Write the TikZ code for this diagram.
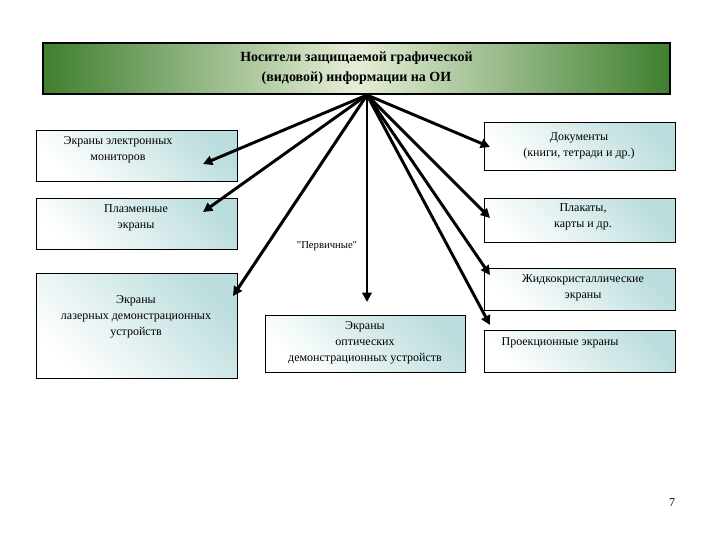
\documentclass[tikz,border=0pt]{standalone}
\usepackage{fontspec}
\setmainfont{Liberation Serif}
\newfontfamily\rawf{Liberation Serif}[Ligatures=ResetAll]
\usetikzlibrary{arrows.meta}
\definecolor{dg}{HTML}{3F7F2F}
\definecolor{lg}{HTML}{E6EED8}
\definecolor{bx}{HTML}{BCDDDD}
\tikzset{
 box/.style={draw=black,line width=0.8pt,left color=white,right color=bx,shading angle=135,align=center,font=\fontsize{9}{12}\selectfont,inner sep=2pt},
 arr/.style={-{Triangle[length=7pt,width=7pt]},line width=2.2pt}
}
\begin{document}
\begin{tikzpicture}[x=0.75pt,y=-0.75pt]
\useasboundingbox[fill=white] (0,0) rectangle (720,540);
\node[draw=black,line width=0.8pt,minimum width=627*0.75pt,minimum height=51*0.75pt,inner sep=0pt,
 left color=dg,right color=dg,middle color=lg,align=center,font=\bfseries\fontsize{10.5}{15}\selectfont] (top) at (356.5,68.5) {Носители защищаемой графической\\(видовой) информации на ОИ};
\coordinate (apex) at (367,95);
\node[box,minimum width=201*0.75pt,minimum height=51*0.75pt,anchor=north west] (l1) at (36,130) {};
\node at (118,150) [align=center,font=\fontsize{9}{12}\selectfont] (l1t) {Экраны электронных\\мониторов};
\node[box,minimum width=201*0.75pt,minimum height=51*0.75pt,anchor=north west] (l2) at (36,198) {};
\node at (136,218) [align=center,font=\fontsize{9}{12}\selectfont] (l2t) {Плазменные\\экраны};
\node[box,minimum width=201*0.75pt,minimum height=105*0.75pt,anchor=north west] (l3) at (36,273) {};
\node at (136,317) [align=center,font=\fontsize{9}{12}\selectfont] (l3t) {Экраны\\лазерных демонстрационных\\устройств};
\node[box,minimum width=200*0.75pt,minimum height=57*0.75pt,anchor=north west] (c) at (265,315) {};
\node at (365,343) [align=center,font=\fontsize{9}{12}\selectfont] (ct) {Экраны\\оптических\\демонстрационных устройств};
\node[box,minimum width=191*0.75pt,minimum height=48*0.75pt,anchor=north west] (r1) at (484,122) {};
\node at (579,146) [align=center,font=\fontsize{9}{12}\selectfont] (r1t) {Документы\\(книги, тетради и др.)};
\node[box,minimum width=191*0.75pt,minimum height=44*0.75pt,anchor=north west] (r2) at (484,198) {};
\node at (583,217) [align=center,font=\fontsize{9}{12}\selectfont] (r2t) {Плакаты,\\карты и др.};
\node[box,minimum width=191*0.75pt,minimum height=42*0.75pt,anchor=north west] (r3) at (484,268) {};
\node at (583,288) [align=center,font=\fontsize{9}{12}\selectfont] (r3t) {Жидкокристаллические\\экраны};
\node[box,minimum width=191*0.75pt,minimum height=42*0.75pt,anchor=north west] (r4) at (484,330) {};
\node at (560,343) [font=\fontsize{9}{12}\selectfont] (r4t) {Проекционные экраны};
\node at (327,246) [font=\rawf\fontsize{8}{10}\selectfont] (pl) {"Первичные"};
\node at (672,503) [font=\fontsize{9}{12}\selectfont] (pg) {7};
\coordinate (e1) at (203,164); \coordinate (e2) at (203,212); \coordinate (e3) at (233,296);
\coordinate (ec) at (367,302);
\coordinate (f1) at (490,147); \coordinate (f2) at (490,218); \coordinate (f3) at (490,275); \coordinate (f4) at (490,325);
\foreach \e in {e1,e2,e3,ec,f1,f2,f3,f4} \draw[arr] (apex) -- (\e);
\end{tikzpicture}
\end{document}
